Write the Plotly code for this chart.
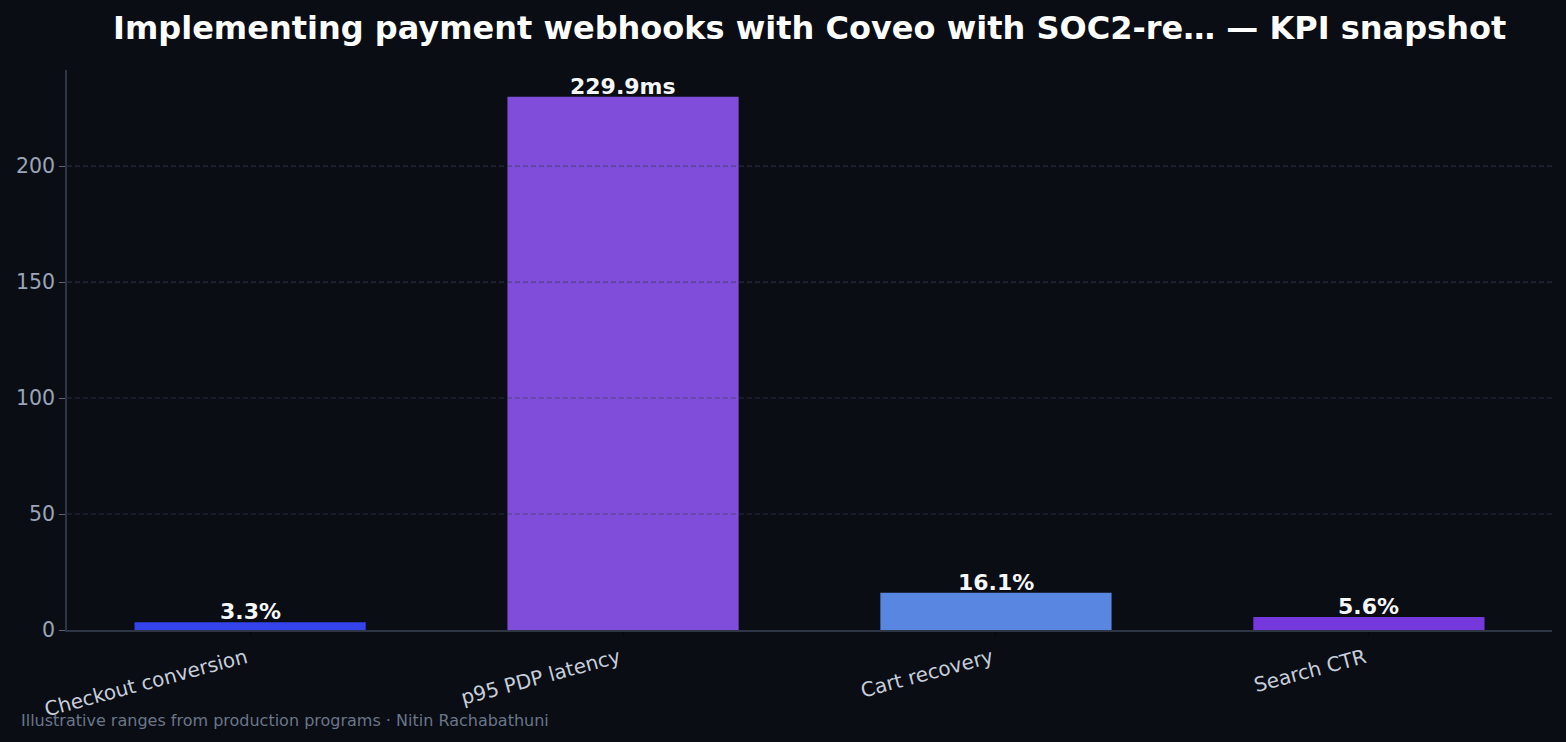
import plotly.graph_objects as go

categories = ["Checkout conversion", "p95 PDP latency", "Cart recovery", "Search CTR"]
values = [3.3, 229.9, 16.1, 5.6]
labels = ["3.3%", "229.9ms", "16.1%", "5.6%"]
colors = ["#3443ec", "#804ddb", "#5886e0", "#7438dc"]
grid_vals = [50, 100, 150, 200]
ytick_vals = [0, 50, 100, 150, 200]

title = "Implementing payment webhooks with Coveo with SOC2-re\u2026 \u2014 KPI snapshot"
footer = "Illustrative ranges from production programs \u00b7 Nitin Rachabathuni"

BG = "#0a0d14"
FONT = "DejaVu Sans"

fig = go.Figure()
fig.add_trace(go.Bar(
    x=list(range(len(categories))), y=values, width=0.62,
    marker=dict(color=colors, line=dict(width=0)),
    text=labels, textposition="none", hoverinfo="skip",
))

for i, (v, t) in enumerate(zip(values, labels)):
    fig.add_annotation(x=i, y=v, text="<b>%s</b>" % t, showarrow=False,
                       xref="x", yref="y", yanchor="bottom", yshift=-4,
                       font=dict(family=FONT, size=22, color="#f5f7fa"))

for g in grid_vals:
    fig.add_shape(type="line", xref="paper", yref="y", x0=0, x1=1, y0=g, y1=g,
                  line=dict(color="rgba(55,60,88,0.65)", width=1.2, dash="5px,3px"),
                  layer="above")

fig.add_annotation(text="<b>%s</b>" % title, xref="paper", yref="paper",
                   x=0.5, y=1, yshift=42, xanchor="center", yanchor="middle",
                   showarrow=False, font=dict(family=FONT, size=32, color="#ffffff"))
fig.add_annotation(text=footer, xref="paper", yref="paper", x=-0.0325, y=0,
                   yshift=-90, xanchor="left", yanchor="middle", showarrow=False,
                   font=dict(family=FONT, size=16, color="#6b7689"))

fig.update_layout(
    width=1566, height=742,
    paper_bgcolor=BG, plot_bgcolor=BG,
    margin=dict(l=67, r=14, t=70, b=112),
    showlegend=False,
    font=dict(family=FONT),
    xaxis=dict(
        tickmode="array", tickvals=list(range(len(categories))), ticktext=categories,
        range=[-0.491, 3.491], showgrid=False, zeroline=False,
        showline=True, linecolor="#2e3645", linewidth=1.5,
        ticks="outside", ticklen=5, tickcolor="#05070a", tickwidth=1.2,
        tickangle=-15, tickfont=dict(family=FONT, size=20, color="#c6cedb"),
        ticklabelshift=-4, ticklabelstandoff=2,
    ),
    yaxis=dict(
        range=[0, 241.4], tickmode="array", tickvals=ytick_vals,
        showgrid=False, zeroline=False,
        showline=True, linecolor="#2e3645", linewidth=1.5,
        ticks="outside", ticklen=6, tickcolor="#5a6478", tickwidth=1.2,
        tickfont=dict(family=FONT, size=20.5, color="#9aa5b8"),
    ),
)

fig.write_html("out.html")
